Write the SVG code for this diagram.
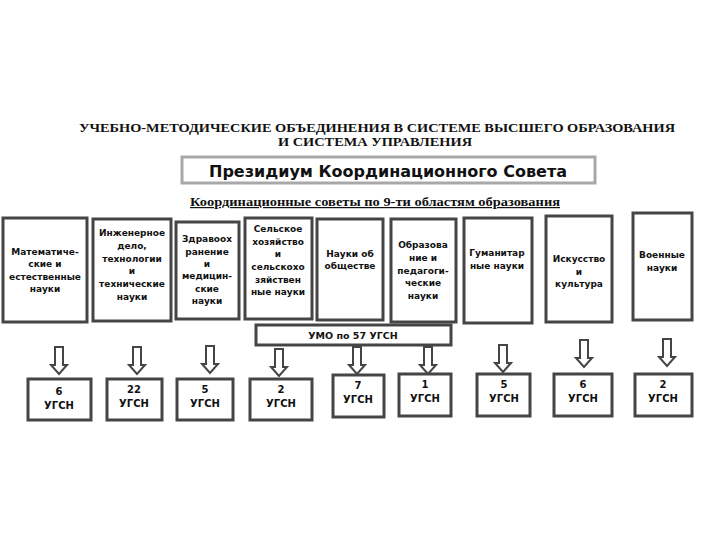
<svg xmlns="http://www.w3.org/2000/svg" xmlns:xlink="http://www.w3.org/1999/xlink" width="720" height="540" viewBox="0 0 720 540">
<defs>
<style>
.title{font-family:"Liberation Serif","Times New Roman",serif;font-weight:bold;font-size:13px;fill:#111;text-anchor:middle}
.sub{font-family:"Liberation Serif","Times New Roman",serif;font-weight:bold;font-size:12px;fill:#111;text-anchor:middle;text-decoration:underline}
.pres{font-family:"DejaVu Sans",Verdana,sans-serif;font-weight:bold;font-size:16px;fill:#111;text-anchor:middle}
.box{fill:#fff;stroke:#454545;stroke-width:3}
.pbox{fill:#fff;stroke:#a8a8a8;stroke-width:3}
.t{font-family:"DejaVu Sans",Verdana,sans-serif;font-weight:bold;font-size:9px;fill:#111;text-anchor:middle}
.b{font-family:"DejaVu Sans",Verdana,sans-serif;font-weight:bold;font-size:10px;fill:#111;text-anchor:middle}
.arr{fill:#fff;stroke:#454545;stroke-width:2;stroke-linejoin:miter}
</style>
<path id="ar" d="M-4,0 H4 V18 H8 L0,27 L-8,18 H-4 Z"/>
</defs>
<rect width="720" height="540" fill="#fff"/>

<g id="title">
<text class="title" x="377" y="132" textLength="596" lengthAdjust="spacingAndGlyphs">УЧЕБНО-МЕТОДИЧЕСКИЕ ОБЪЕДИНЕНИЯ В СИСТЕМЕ ВЫСШЕГО ОБРАЗОВАНИЯ</text>
<text class="title" x="375" y="146" textLength="194" lengthAdjust="spacingAndGlyphs">И СИСТЕМА УПРАВЛЕНИЯ</text>
</g>

<g id="presidium">
<rect class="pbox" x="182" y="157" width="413" height="26"/>
<text class="pres" x="388" y="177" textLength="358" lengthAdjust="spacingAndGlyphs">Президиум Координационного Совета</text>
</g>

<g id="subtitle">
<text class="sub" x="375" y="206" textLength="370" lengthAdjust="spacingAndGlyphs">Координационные советы по 9-ти областям образования</text>
</g>

<g id="n1">
<rect class="box" x="3" y="218" width="84" height="104"/>
<text class="t" x="45" y="255">Математиче-</text>
<text class="t" x="45" y="267">ские и</text>
<text class="t" x="45" y="280">естественные</text>
<text class="t" x="45" y="292">науки</text>
</g>
<g id="n2">
<rect class="box" x="93" y="219" width="78" height="102"/>
<text class="t" x="132" y="236">Инженерное</text>
<text class="t" x="132" y="249">дело,</text>
<text class="t" x="132" y="262">технологии</text>
<text class="t" x="132" y="274">и</text>
<text class="t" x="132" y="287">технические</text>
<text class="t" x="132" y="300">науки</text>
</g>
<g id="n3">
<rect class="box" x="176" y="222" width="63" height="97"/>
<text class="t" x="207" y="242">Здравоох</text>
<text class="t" x="207" y="255">ранение</text>
<text class="t" x="207" y="267">и</text>
<text class="t" x="207" y="279">медицин-</text>
<text class="t" x="207" y="292">ские</text>
<text class="t" x="207" y="304">науки</text>
</g>
<g id="n4">
<rect class="box" x="245" y="218" width="67" height="101"/>
<text class="t" x="278" y="232">Сельское</text>
<text class="t" x="278" y="245">хозяйство</text>
<text class="t" x="278" y="257">и</text>
<text class="t" x="278" y="270">сельскохо</text>
<text class="t" x="278" y="283">зяйствен</text>
<text class="t" x="278" y="295">ные науки</text>
</g>
<g id="n5">
<rect class="box" x="317" y="219" width="66" height="101"/>
<text class="t" x="350" y="257">Науки об</text>
<text class="t" x="350" y="269">обществе</text>
</g>
<g id="n6">
<rect class="box" x="391" y="219" width="65" height="103"/>
<text class="t" x="423" y="248">Образова</text>
<text class="t" x="423" y="261">ние и</text>
<text class="t" x="423" y="274">педагоги-</text>
<text class="t" x="423" y="286">ческие</text>
<text class="t" x="423" y="299">науки</text>
</g>
<g id="n7">
<rect class="box" x="464" y="218" width="68" height="105"/>
<text class="t" x="497" y="256">Гуманитар</text>
<text class="t" x="497" y="269">ные науки</text>
</g>
<g id="n8">
<rect class="box" x="546" y="216" width="66" height="106"/>
<text class="t" x="579" y="262">Искусство</text>
<text class="t" x="579" y="275">и</text>
<text class="t" x="579" y="287">культура</text>
</g>
<g id="n9">
<rect class="box" x="633" y="213" width="59" height="107"/>
<text class="t" x="662" y="258">Военные</text>
<text class="t" x="662" y="271">науки</text>
</g>

<g id="umo">
<rect class="box" x="256" y="325" width="195" height="20"/>
<text class="t" x="353" y="339" style="font-size:9.5px">УМО по 57 УГСН</text>
</g>

<g id="connectors">
<use xlink:href="#ar" class="arr" x="59" y="347"/>
<use xlink:href="#ar" class="arr" x="137" y="347"/>
<use xlink:href="#ar" class="arr" x="210" y="346"/>
<use xlink:href="#ar" class="arr" x="279" y="349"/>
<use xlink:href="#ar" class="arr" x="357" y="347"/>
<use xlink:href="#ar" class="arr" x="428" y="347"/>
<use xlink:href="#ar" class="arr" x="503" y="345"/>
<use xlink:href="#ar" class="arr" x="584" y="340"/>
<use xlink:href="#ar" class="arr" x="667" y="339"/>
</g>

<g id="u1">
<rect class="box" x="28" y="379" width="63" height="41"/>
<text class="b" x="59" y="395">6</text>
<text class="b" x="59" y="409">УГСН</text>
</g>
<g id="u2">
<rect class="box" x="107" y="379" width="55" height="41"/>
<text class="b" x="134" y="393">22</text>
<text class="b" x="134" y="407">УГСН</text>
</g>
<g id="u3">
<rect class="box" x="177" y="379" width="56" height="41"/>
<text class="b" x="205" y="393">5</text>
<text class="b" x="205" y="407">УГСН</text>
</g>
<g id="u4">
<rect class="box" x="250" y="379" width="62" height="41"/>
<text class="b" x="281" y="393">2</text>
<text class="b" x="281" y="407">УГСН</text>
</g>
<g id="u5">
<rect class="box" x="333" y="375" width="51" height="42"/>
<text class="b" x="358" y="389">7</text>
<text class="b" x="358" y="403">УГСН</text>
</g>
<g id="u6">
<rect class="box" x="399" y="374" width="52" height="42"/>
<text class="b" x="425" y="388">1</text>
<text class="b" x="425" y="402">УГСН</text>
</g>
<g id="u7">
<rect class="box" x="477" y="374" width="53" height="42"/>
<text class="b" x="504" y="388">5</text>
<text class="b" x="504" y="402">УГСН</text>
</g>
<g id="u8">
<rect class="box" x="554" y="374" width="58" height="42"/>
<text class="b" x="583" y="388">6</text>
<text class="b" x="583" y="402">УГСН</text>
</g>
<g id="u9">
<rect class="box" x="635" y="374" width="57" height="42"/>
<text class="b" x="663" y="388">2</text>
<text class="b" x="663" y="402">УГСН</text>
</g>
</svg>
